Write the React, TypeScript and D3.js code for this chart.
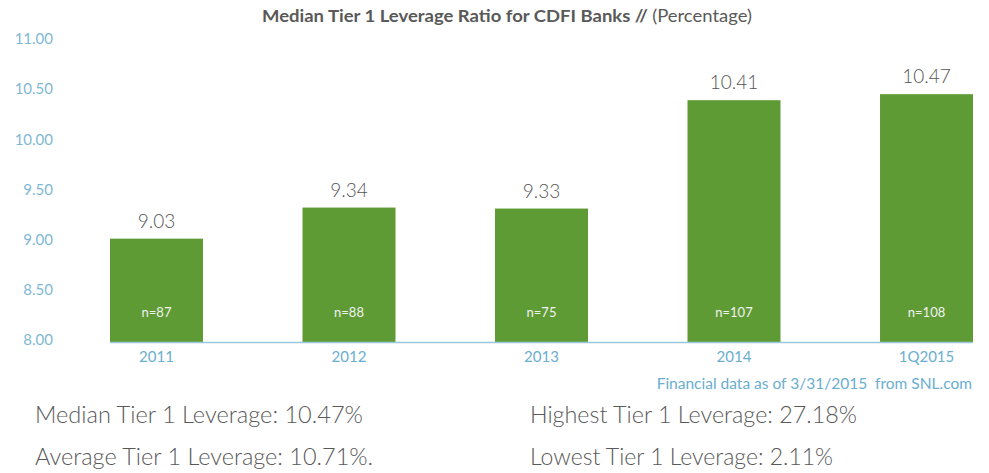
import { useEffect, useRef } from "react"
import * as d3 from "d3"

const categories = ["2011", "2012", "2013", "2014", "1Q2015"]
const medians = [9.03, 9.34, 9.33, 10.41, 10.47]
const counts = [87, 88, 75, 107, 108]
const yTicks = [8, 8.5, 9, 9.5, 10, 10.5, 11]
const summaryLeft = ["Median Tier 1 Leverage: 10.47%", "Average Tier 1 Leverage: 10.71%."]
const summaryRight = ["Highest Tier 1 Leverage: 27.18%", "Lowest Tier 1 Leverage: 2.11%"]

export default function App() {
  const svgRef = useRef<SVGSVGElement>(null)
  const width = 989
  const height = 473

  useEffect(() => {
    if (!svgRef.current) return
    const svg = d3.select(svgRef.current)
    svg.selectAll("*").remove()

    const font = "Lato, 'Open Sans', sans-serif"
    const blue = "#6aaed0"

    const x = d3.scaleBand()
      .domain(categories)
      .range([110, 973])
      .paddingInner(0.517)
      .paddingOuter(0)

    const y = d3.scaleLinear().domain([8, 11]).range([342, 41])

    // title
    const title = svg.append("text")
      .attr("x", 507).attr("y", 22)
      .attr("text-anchor", "middle")
      .attr("font-family", font)
      .attr("font-size", 17.5)
      .attr("fill", "#595959")
      .attr("textLength", 490)
      .attr("lengthAdjust", "spacingAndGlyphs")
    title.append("tspan").attr("font-weight", "bold").text("Median Tier 1 Leverage Ratio for CDFI Banks // ")
    title.append("tspan").text("(Percentage)")

    // y axis labels
    svg.append("g").selectAll("text").data(yTicks).enter()
      .append("text")
      .attr("x", 53)
      .attr("y", d => y(d) - 2)
      .attr("dy", "0.35em")
      .attr("text-anchor", "end")
      .attr("font-family", font)
      .attr("font-size", 15)
      .attr("fill", "#7fb8d4")
      .text(d => d.toFixed(2))

    const data = categories.map((c, i) => ({ c, v: medians[i], n: counts[i] }))

    // bars
    svg.append("g").selectAll("rect").data(data).enter()
      .append("rect")
      .attr("x", d => x(d.c) as number)
      .attr("y", d => y(d.v))
      .attr("width", x.bandwidth())
      .attr("height", d => y(8) - y(d.v))
      .attr("fill", "#5e9b34")

    // baseline
    svg.append("line")
      .attr("x1", 110).attr("x2", 973)
      .attr("y1", y(8) + 0.5).attr("y2", y(8) + 0.5)
      .attr("stroke", "#9cc6dc").attr("stroke-width", 1.5)

    // value labels
    svg.append("g").selectAll("text").data(data).enter()
      .append("text")
      .attr("x", d => (x(d.c) as number) + x.bandwidth() / 2)
      .attr("y", d => y(d.v) - 11)
      .attr("text-anchor", "middle")
      .attr("font-family", font)
      .attr("font-weight", 300)
      .attr("font-size", 19)
      .attr("fill", "#555")
      .text(d => d.v.toFixed(2))

    // n labels
    svg.append("g").selectAll("text").data(data).enter()
      .append("text")
      .attr("x", d => (x(d.c) as number) + x.bandwidth() / 2)
      .attr("y", 312)
      .attr("dy", "0.35em")
      .attr("text-anchor", "middle")
      .attr("font-family", font)
      .attr("font-size", 13)
      .attr("fill", "#f2f2f2")
      .text(d => `n=${d.n}`)

    // x labels
    svg.append("g").selectAll("text").data(categories).enter()
      .append("text")
      .attr("x", d => (x(d) as number) + x.bandwidth() / 2)
      .attr("y", 357)
      .attr("dy", "0.35em")
      .attr("text-anchor", "middle")
      .attr("font-family", font)
      .attr("font-size", 15)
      .attr("fill", blue)
      .text(d => d)

    // source note
    svg.append("text")
      .attr("x", 972).attr("y", 384)
      .attr("dy", "0.35em")
      .attr("text-anchor", "end")
      .attr("font-family", font)
      .attr("font-size", 15.5)
      .attr("fill", blue)
      .style("white-space", "pre")
      .text("Financial data as of 3/31/2015  from SNL.com")

    // summary stats
    const rows = [423, 465]
    const leftLens = [328, 338]
    const rightLens = [327, 303]
    summaryLeft.forEach((t, i) => {
      svg.append("text")
        .attr("x", 35).attr("y", rows[i])
        .attr("font-family", font)
        .attr("font-weight", 300)
        .attr("font-size", 23.5)
        .attr("fill", "#595959")
        .attr("textLength", leftLens[i])
        .attr("lengthAdjust", "spacingAndGlyphs")
        .text(t)
    })
    summaryRight.forEach((t, i) => {
      svg.append("text")
        .attr("x", 530).attr("y", rows[i])
        .attr("font-family", font)
        .attr("font-weight", 300)
        .attr("font-size", 23.5)
        .attr("fill", "#595959")
        .attr("textLength", rightLens[i])
        .attr("lengthAdjust", "spacingAndGlyphs")
        .text(t)
    })
  }, [])

  return (
    <svg
      ref={svgRef}
      width={width}
      height={height}
      style={{ position: "absolute", left: 0, top: 0, background: "#fff" }}
      xmlns="http://www.w3.org/2000/svg"
    ></svg>
  )
}
